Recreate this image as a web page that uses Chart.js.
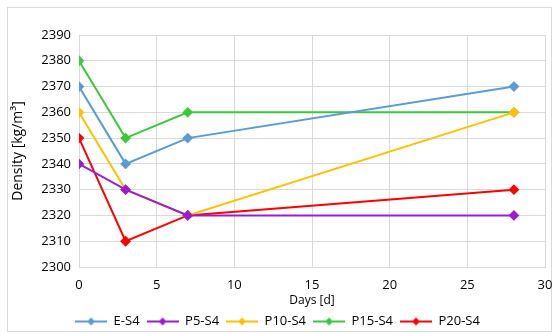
<!DOCTYPE html>
<html><head><meta charset="utf-8">
<script src="https://cdn.jsdelivr.net/npm/chart.js@4"></script>
<style>
html,body{margin:0;padding:0;background:#fff;}
#frame{position:absolute;left:7px;top:7px;width:545px;height:325px;border:1px solid #D9D9D9;box-sizing:border-box;}
#wrap{position:absolute;left:0;top:0;width:555px;height:334px;}
</style></head><body>
<div id="frame"></div>
<div id="wrap"><canvas id="c" width="555" height="334"></canvas></div>
<script>
const days = [0, 3, 7, 28];
const seriesNames = ['E-S4','P5-S4','P10-S4','P15-S4','P20-S4'];
const eS4 = [2370, 2340, 2350, 2370];
const p5S4 = [2340, 2330, 2320, 2320];
const p10S4 = [2360, 2330, 2320, 2360];
const p15S4 = [2380, 2350, 2360, 2360];
const p20S4 = [2350, 2310, 2320, 2330];
const colors = ['#5B9BD5','#9A1ED0','#FFC000','#3CC83C','#FF0000'];
const allValues = [eS4, p5S4, p10S4, p15S4, p20S4];

function legendIcon(color){
  const c = document.createElement('canvas');
  c.width = 32; c.height = 10;
  const g = c.getContext('2d');
  g.strokeStyle = color; g.lineWidth = 2;
  g.beginPath(); g.moveTo(0,5); g.lineTo(32,5); g.stroke();
  g.fillStyle = color;
  g.beginPath(); g.moveTo(16,1); g.lineTo(20,5); g.lineTo(16,9); g.lineTo(12,5); g.closePath(); g.fill();
  return c;
}
const icons = colors.map(legendIcon);

const datasets = seriesNames.map((n,i)=>({
  label: n,
  data: days.map((d,j)=>({x:d, y: allValues[i][j]})),
  borderColor: colors[i],
  backgroundColor: colors[i],
  borderWidth: 2,
  pointStyle: 'rectRot',
  pointRadius: 4,
  pointHoverRadius: 4,
  tension: 0,
  fill: false
}));

const fam = "'Open Sans', 'Liberation Sans', sans-serif";
const font = {family: fam, size: 13};
new Chart(document.getElementById('c'), {
  type: 'line',
  data: {datasets},
  options: {
    responsive: false,
    animation: false,
    layout: {padding: {left: 10, right: 10, top: 35, bottom: -4}},
    plugins: {
      legend: {
        position: 'bottom',
        labels: {
          usePointStyle: true,
          pointStyleWidth: 32,
          font: {family: fam, size: 13},
          color: '#000',
          boxWidth: 32, boxHeight: 10,
          padding: 7,
          generateLabels: (chart)=> chart.data.datasets.map((ds,i)=>({
            text: ds.label, pointStyle: icons[i], fillStyle: ds.borderColor,
            strokeStyle: ds.borderColor, lineWidth: 0, datasetIndex: i, hidden: false
          }))
        }
      },
      tooltip: {enabled: false}
    },
    scales: {
      x: {
        type: 'linear', min: 0, max: 30,
        ticks: {stepSize: 5, font, color: '#000', padding: 10},
        grid: {color: '#D9D9D9', lineWidth: 1, drawTicks: false},
        border: {color: '#D9D9D9'},
        title: {display: true, text: 'Days [d]', font: {family: fam, size: 12}, color: '#000', padding: {top: -9, bottom: 0}},
        afterFit: (s)=>{ s.paddingRight = 0; s.paddingLeft = 0; }
      },
      y: {
        min: 2300, max: 2390,
        ticks: {stepSize: 10, font, color: '#000', padding: 8, callback: (v)=> String(v)},
        grid: {color: '#D9D9D9', lineWidth: 1, drawTicks: false},
        border: {color: '#D9D9D9'},
        title: {display: true, text: 'Density [kg/m³]', font: {family: fam, size: 14}, color: '#000', padding: {top: 0, bottom: 4}},
        afterFit: (s)=>{ s.width = 69; }
      }
    }
  }
});
</script>
</body></html>
